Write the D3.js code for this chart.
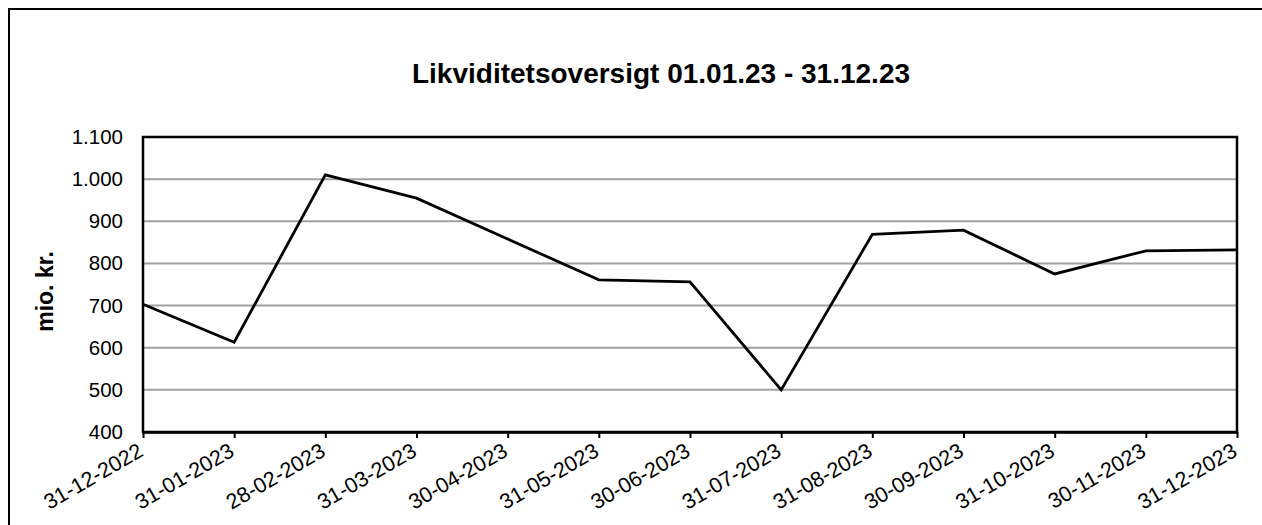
<!DOCTYPE html>
<html>
<head>
<meta charset="utf-8">
<script src="https://cdn.jsdelivr.net/npm/d3@7"></script>
<style>
  body { margin: 0; background: #fff; }
  svg { font-family: "Liberation Sans", Arial, sans-serif; }
</style>
</head>
<body>
<svg id="chart" width="1262" height="525"></svg>
<script>
const TITLE = 'Likviditetsoversigt 01.01.23 - 31.12.23';
const Y_LABEL = 'mio. kr.';

const dates = ['31-12-2022', '31-01-2023', '28-02-2023', '31-03-2023', '30-04-2023', '31-05-2023',
  '30-06-2023', '31-07-2023', '31-08-2023', '30-09-2023', '31-10-2023', '30-11-2023', '31-12-2023'];
const liquidity = [703, 613, 1010, 955, 858, 761, 756, 500, 869, 879, 775, 830, 832];
const yTicks = [400, 500, 600, 700, 800, 900, 1000, 1100];

const margin = {left: 143, top: 137, right: 25, bottom: 93};
const width = 1262;
const height = 525;

const svg = d3.select('#chart');

// outer frame
svg.append('rect')
  .attr('x', 9).attr('y', 9)
  .attr('width', width + 10).attr('height', height + 10)
  .attr('fill', 'none')
  .attr('stroke', '#000')
  .attr('stroke-width', 2);

svg.append('text')
  .attr('x', 661)
  .attr('y', 83)
  .attr('text-anchor', 'middle')
  .attr('font-size', '28px')
  .attr('font-weight', 'bold')
  .text(TITLE);

const x = d3.scalePoint().domain(dates).range([margin.left, width - margin.right]);
const y = d3.scaleLinear().domain([400, 1100]).range([height - margin.bottom, margin.top]);

// gridlines
svg.append('g')
  .selectAll('line')
  .data(yTicks.slice(1, -1))
  .enter()
  .append('line')
  .attr('x1', margin.left).attr('x2', width - margin.right)
  .attr('y1', d => y(d)).attr('y2', d => y(d))
  .attr('stroke', '#a0a0a0')
  .attr('stroke-width', 2);

// plot border
svg.append('rect')
  .attr('x', margin.left).attr('y', margin.top)
  .attr('width', width - margin.right - margin.left)
  .attr('height', height - margin.bottom - margin.top)
  .attr('fill', 'none')
  .attr('stroke', '#000')
  .attr('stroke-width', 2.5);

// y axis labels
const yAxis = svg.append('g')
  .attr('transform', 'translate(' + margin.left + ',0)')
  .call(d3.axisLeft(y).tickValues(yTicks).tickSize(0).tickPadding(20)
    .tickFormat(d => d3.format(',')(d).replace(/,/g, '.')));
yAxis.select('.domain').remove();
yAxis.selectAll('text')
  .attr('font-size', '20.5px')
  .attr('font-family', '"Liberation Sans", Arial, sans-serif')
  .attr('fill', '#000');

svg.append('text')
  .attr('transform', 'translate(53,' + ((margin.top + height - margin.bottom) / 2 + 7) + ') rotate(-90)')
  .attr('text-anchor', 'middle')
  .attr('font-size', '23px')
  .attr('font-weight', 'bold')
  .text(Y_LABEL);

// x axis
const xAxis = svg.append('g')
  .attr('transform', 'translate(0,' + (height - margin.bottom) + ')')
  .call(d3.axisBottom(x).tickSize(6).tickSizeOuter(0));
xAxis.select('.domain')
  .attr('stroke', '#000')
  .attr('stroke-width', 2.5);
xAxis.selectAll('.tick line')
  .attr('stroke', '#000')
  .attr('stroke-width', 2);
xAxis.selectAll('text')
  .attr('font-size', '21.5px')
  .attr('font-family', '"Liberation Sans", Arial, sans-serif')
  .attr('fill', '#000')
  .attr('text-anchor', 'end')
  .attr('dy', null)
  .attr('y', 0)
  .attr('transform', 'translate(1,23) rotate(-30)');

// line
svg.append('path')
  .datum(dates.map((d, i) => [d, liquidity[i]]))
  .attr('fill', 'none')
  .attr('stroke', '#000')
  .attr('stroke-width', 2.8)
  .attr('stroke-linejoin', 'miter')
  .attr('d', d3.line().x(d => x(d[0])).y(d => y(d[1])));
</script>
</body>
</html>
